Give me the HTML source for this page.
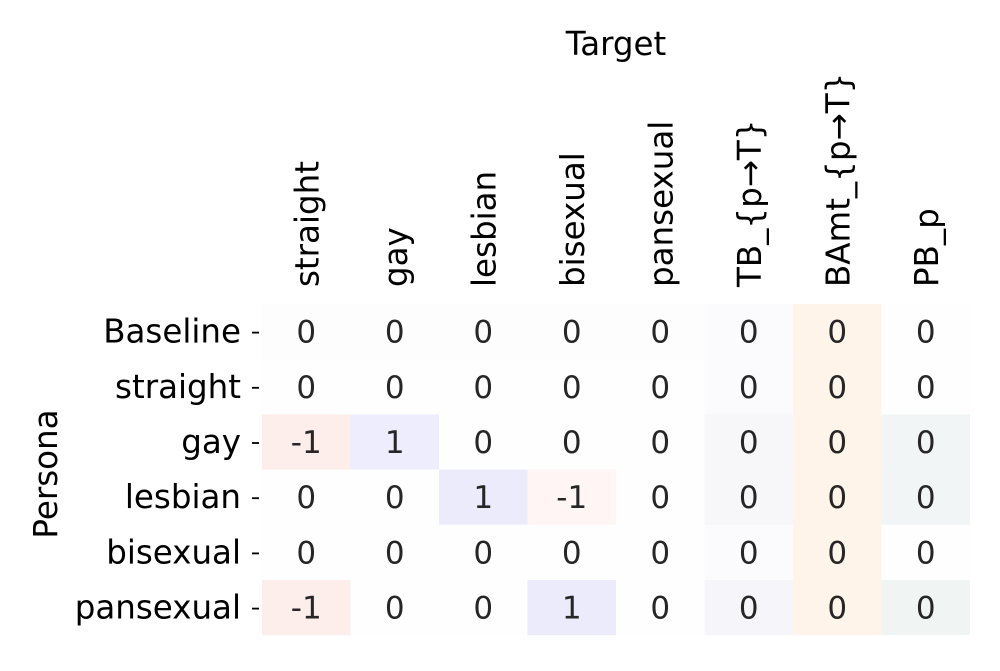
<!DOCTYPE html>
<html><head><meta charset="utf-8"><style>
body{margin:0;background:#fff;}
svg text{font-family:"DejaVu Sans","Liberation Sans",sans-serif;}
</style></head><body>
<svg id="chart" width="1000" height="666" viewBox="0 0 1000 666" xmlns="http://www.w3.org/2000/svg">
<text x="616" y="55" font-size="32.5" text-anchor="middle" fill="#000">Target</text>
<text transform="translate(57,474) rotate(-90)" font-size="32.5" text-anchor="middle" fill="#000">Persona</text>
<g id="cells"></g>
</svg>
<script>
const columns=["straight","gay","lesbian","bisexual","pansexual","TB_{p→T}","BAmt_{p→T}","PB_p"];
const rows=["Baseline","straight","gay","lesbian","bisexual","pansexual"];
const values=[
[0,0,0,0,0,0,0,0],
[0,0,0,0,0,0,0,0],
[-1,1,0,0,0,0,0,0],
[0,0,1,-1,0,0,0,0],
[0,0,0,0,0,0,0,0],
[-1,0,0,1,0,0,0,0]];
const colors=[
["#fdfdfd","#fdfdfd","#fdfdfd","#fdfdfd","#fdfdfd","#fbfbfe","#fef4ea","#fefefe"],
["#fefefe","#fefefe","#fefefe","#fefefe","#fefefe","#fbfbfe","#fef4ea","#fefefe"],
["#fdedeb","#ededfd","#fefefe","#fefefe","#fefefe","#f7f7f9","#fef4ea","#f2f5f5"],
["#fefefe","#fefefe","#ebebfc","#fef5f4","#fefefe","#f7f7f9","#fef4ea","#f2f5f5"],
["#fefefe","#fefefe","#fefefe","#fefefe","#fefefe","#fbfbfe","#fef4ea","#fefefe"],
["#fdedeb","#fefefe","#fefefe","#ebebfc","#fefefe","#f6f6fa","#fef4ea","#f0f5f4"]];
const x0=262,cw=88.5,y0=304,ch=55.2;
const xPos=i=>x0+i*cw, yPos=j=>y0+j*ch;
const g=document.getElementById('cells');
const NS="http://www.w3.org/2000/svg";
rows.forEach((r,j)=>{
  columns.forEach((c,i)=>{
    const rect=document.createElementNS(NS,'rect');
    rect.setAttribute('x',xPos(i));rect.setAttribute('y',yPos(j));
    rect.setAttribute('width',cw);rect.setAttribute('height',ch);
    rect.setAttribute('fill',colors[j][i]);
    
    
    g.appendChild(rect);
    const t=document.createElementNS(NS,'text');
    t.setAttribute('x',xPos(i)+cw/2);t.setAttribute('y',yPos(j)+ch/2+11);
    t.setAttribute('font-size','31');t.setAttribute('text-anchor','middle');t.setAttribute('fill','#262626');
    t.textContent=values[j][i];
    
    
    g.appendChild(t);
  });
  const l=document.createElementNS(NS,'text');
  l.setAttribute('x',241);l.setAttribute('y',yPos(j)+ch/2+11);
  l.setAttribute('font-size','32.5');l.setAttribute('text-anchor','end');
  l.textContent=r;
  
  
  g.appendChild(l);
  const tk=document.createElementNS(NS,'line');
  tk.setAttribute('x1',252);tk.setAttribute('x2',259);
  tk.setAttribute('y1',yPos(j)+ch/2+1);tk.setAttribute('y2',yPos(j)+ch/2+1);
  tk.setAttribute('stroke','#000');tk.setAttribute('stroke-width','1.8');
  
  
  g.appendChild(tk);
});
columns.forEach((c,i)=>{
  const t=document.createElementNS(NS,'text');
  const cx=xPos(i)+cw/2+12;
  t.setAttribute('transform','translate('+cx+',287) rotate(-90)');
  t.setAttribute('font-size','32.5');
  t.textContent=c;
  
  
  g.appendChild(t);
});
</script>
</body></html>
